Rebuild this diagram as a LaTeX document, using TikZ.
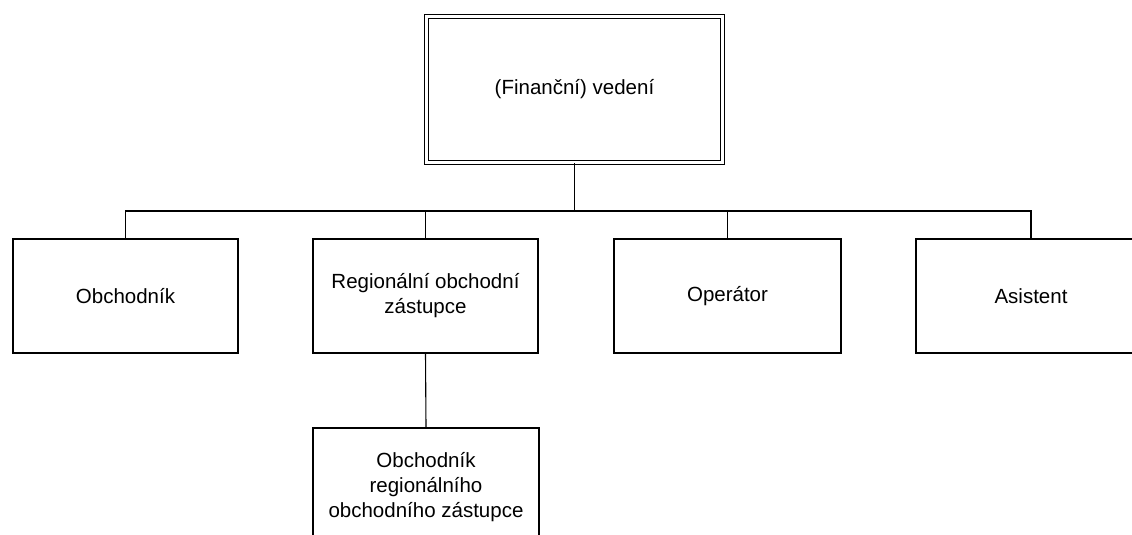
\documentclass[tikz,border=0pt]{standalone}
\usepackage{fontspec}
\setmainfont{Liberation Sans}
\begin{document}
\begin{tikzpicture}[x=1pt,y=-1pt,
  every node/.style={font=\fontsize{20.5}{25}\selectfont, align=center, inner sep=0pt},
  unit/.style={draw, line width=1.1pt, minimum width=#1, minimum height=114pt},
  unit/.default=225pt,
  headunit/.style={draw, double, double distance=2.4pt, line width=1pt,
                   minimum width=296pt, minimum height=146pt},
  link/.style={line width=1.1pt}]
  % page frame; the rightmost and the lowest box run past it
  \path[use as bounding box, clip] (0,0) rectangle (1132,535);

  \node[headunit] (head) at (574.5,89.5) {(Finanční) vedení};

  \node[unit] (obch) at (125.5,296) {Obchodník};
  \node[unit] (reg)  at (425.5,296) {Regionální obchodní\\zástupce};
  \node[unit=227pt] (oper) at (727.5,296) {Operátor};
  \node[unit=230pt] (asist) at (1031,296) {Asistent};
  \node[unit=226pt, minimum height=118pt] (sub) at (426,487)
       {Obchodník\\regionálního\\obchodního zástupce};

  \coordinate (bus) at (577,211);

  % tree connectors
  \draw[link] (head.south) -- (head.south |- bus);
  \draw[link] (obch.north) -- (obch.north |- bus) -- (asist.north |- bus) -- (asist.north);
  \draw[link] (reg.north) -- (reg.north |- bus);
  \draw[link] (oper.north) -- (oper.north |- bus);
  \draw[link] (reg.south) -- (sub.north);
\end{tikzpicture}
\end{document}
